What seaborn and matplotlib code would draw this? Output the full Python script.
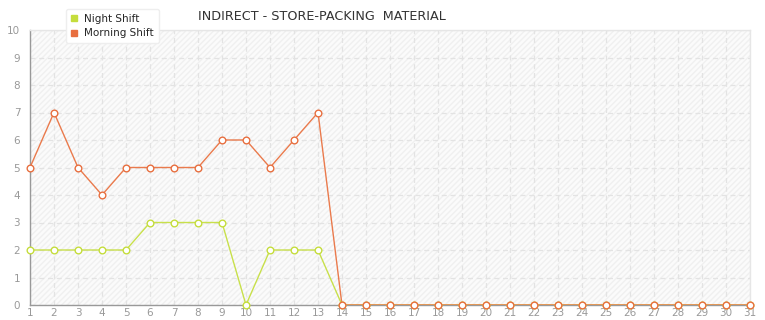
import matplotlib
matplotlib.use("Agg")
import matplotlib.pyplot as plt
import seaborn as sns
import pandas as pd
import numpy as np

days = list(range(1, 32))
night_shift = [2, 2, 2, 2, 2, 3, 3, 3, 3, 0, 2, 2, 2, 0] + [0] * 17
morning_shift = [5, 7, 5, 4, 5, 5, 5, 5, 6, 6, 5, 6, 7, 0] + [0] * 17
y_ticks = list(range(0, 11))
title = "INDIRECT - STORE-PACKING  MATERIAL"

sns.set_style("white")
plt.rcParams['font.family'] = ['DejaVu Sans']

df = pd.DataFrame({
    "day": days * 2,
    "value": night_shift + morning_shift,
    "shift": ["Night Shift"] * 31 + ["Morning Shift"] * 31,
})

fig = plt.figure(figsize=(7.65, 3.2), dpi=100)
ax = fig.add_axes([30 / 765, 15 / 320, 720 / 765, 275 / 320])
ax.set_facecolor("#fbfbfb")
ax.add_patch(matplotlib.patches.Rectangle((0, 0), 1, 1, transform=ax.transAxes,
                                          facecolor="none", edgecolor="#f0f0f0",
                                          hatch="//////", linewidth=0, zorder=0))

palette = {"Night Shift": "#c5dd3c", "Morning Shift": "#e86f3f"}
line_colors = {"Night Shift": "#c8e04a", "Morning Shift": "#ea7a4c"}
sns.lineplot(data=df, x="day", y="value", hue="shift", palette=line_colors,
             ax=ax, linewidth=1.0, legend=False, zorder=3)
for name in ["Night Shift", "Morning Shift"]:
    sub = df[df["shift"] == name]
    ax.plot(sub["day"], sub["value"], linestyle="none", marker="o", markersize=4.8,
            markerfacecolor="white", markeredgecolor=palette[name],
            markeredgewidth=1.0, zorder=4, clip_on=False)

ax.set_xlim(1, 31)
ax.set_ylim(0, 10)
ax.set_xticks(days)
ax.set_yticks(y_ticks)
ax.set_xlabel("")
ax.set_ylabel("")
ax.grid(True, color="#e3e3e3", linestyle=(0, (4, 3)), linewidth=0.9)
ax.set_axisbelow(True)
for s in ["top", "right"]:
    ax.spines[s].set_color("#e6e6e6")
    ax.spines[s].set_linewidth(1.0)
for s in ["left", "bottom"]:
    ax.spines[s].set_color("#999999")
    ax.spines[s].set_linewidth(1.0)
ax.tick_params(axis="both", colors="#999999", labelcolor="#999999",
               labelsize=7.5, width=1, direction="out")
ax.tick_params(axis="x", length=2, pad=0.5)
ax.tick_params(axis="y", length=4, pad=3)

fig.text(322 / 765, 1 - 17 / 320, title, ha="center", va="center",
         fontsize=9.2, color="#333333")

from matplotlib.lines import Line2D
handles = [Line2D([0], [0], marker="s", linestyle="none", markersize=4.5,
                  markerfacecolor=palette[n], markeredgecolor=palette[n])
           for n in ["Night Shift", "Morning Shift"]]
leg = fig.legend(handles, ["Night Shift", "Morning Shift"],
                 loc="upper left", bbox_to_anchor=(64 / 765, 1 - 7 / 320),
                 fontsize=7.5, frameon=True, fancybox=True, shadow=False,
                 handlelength=0.6, handletextpad=0.7, labelspacing=0.45,
                 borderpad=0.45, borderaxespad=0.2, framealpha=1,
                 edgecolor="#eeeeee")
leg.set_zorder(10)

fig.savefig("out.png", dpi=100, facecolor="white")
